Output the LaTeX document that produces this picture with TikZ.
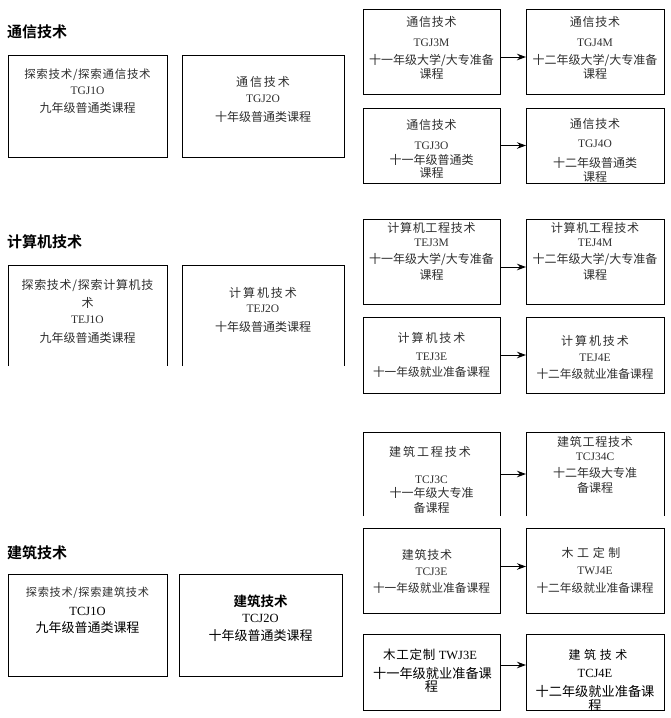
\documentclass[tikz,border=0pt]{standalone}
\usepackage{fontspec}
\setmainfont{Noto Sans CJK SC}[BoldFont={Noto Sans CJK SC Bold}]
\newfontfamily\lat{Liberation Serif}
\newfontfamily\cjkA{Noto Sans CJK SC}[LetterSpace=6]
\newfontfamily\cjkB{Noto Sans CJK SC}[LetterSpace=16]
\newfontfamily\cjkC{Noto Sans CJK SC}[LetterSpace=30]
\usetikzlibrary{arrows.meta}
\newcommand\tl[5][]{\node[txt,#1] (#2) at (#3,#4) {#5};}
\begin{document}
\begin{tikzpicture}[x=1pt,y=-1pt,
  box/.style={draw=black, line width=1pt, inner sep=0pt, outer sep=0pt, anchor=north west},
  openbox/.style={draw=none, inner sep=0pt, outer sep=0pt, anchor=north west},
  side/.style={draw=black, line width=1pt},
  txt/.style={inner sep=0pt, text=black!82, font=\fontsize{12}{14}\selectfont},
  code/.style={txt, font=\lat\fontsize{11.5}{13}\selectfont},
  title/.style={inner sep=0pt, anchor=west, text=black, font=\bfseries\fontsize{15}{17}\selectfont},
  arr/.style={draw=black, line width=1pt, -{Stealth[length=9pt,width=6.5pt]}}
]
\useasboundingbox (0,0) rectangle (671,718);

% ---------- Section 1 ----------
\node[title] (t1) at (7,32) {通信技术};
\node[box, minimum width=159pt, minimum height=102pt] (a1) at (8,55) {};
\node[box, minimum width=162pt, minimum height=102pt] (a2) at (182,55) {};
\node[box, minimum width=137pt, minimum height=85pt] (r1) at (363,9) {};
\node[box, minimum width=138pt, minimum height=85pt] (r2) at (526,9) {};
\node[box, minimum width=137pt, minimum height=75pt] (r3) at (363,108) {};
\node[box, minimum width=138pt, minimum height=75pt] (r4) at (526,108) {};

\tl[font=\cjkA\fontsize{11.5}{14}\selectfont]{a1l1}{87.5}{75}{探索技术/探索通信技术}
\tl[code]{a1l2}{87.5}{91}{TGJ1O}
\tl{a1l3}{87.5}{108}{九年级普通类课程}
\tl[font=\cjkB\fontsize{12}{14}\selectfont]{a2l1}{263}{82}{通信技术}
\tl[code]{a2l2}{263}{99}{TGJ2O}
\tl{a2l3}{263}{117}{十年级普通类课程}

\tl[font=\cjkA\fontsize{12}{14}\selectfont]{r1l1}{431.5}{22}{通信技术}
\tl[code]{r1l2}{431.5}{43}{TGJ3M}
\tl{r1l3}{431.5}{60}{十一年级大学/大专准备}
\tl{r1l4}{431.5}{74}{课程}
\tl[font=\cjkA\fontsize{12}{14}\selectfont]{r2l1}{595}{22}{通信技术}
\tl[code]{r2l2}{595}{43}{TGJ4M}
\tl{r2l3}{595}{60}{十二年级大学/大专准备}
\tl{r2l4}{595}{74}{课程}
\tl[font=\cjkA\fontsize{12}{14}\selectfont]{r3l1}{431.5}{125}{通信技术}
\tl[code]{r3l2}{431.5}{146}{TGJ3O}
\tl{r3l3}{431.5}{160}{十一年级普通类}
\tl{r3l4}{431.5}{173}{课程}
\tl[font=\cjkA\fontsize{12}{14}\selectfont]{r4l1}{595}{124}{通信技术}
\tl[code]{r4l2}{595}{144}{TGJ4O}
\tl{r4l3}{595}{163}{十二年级普通类}
\tl{r4l4}{595}{177}{课程}

\draw[arr] ([yshift=-5.5pt]r1.east) -- ([yshift=-5.5pt]r2.west);
\draw[arr] (r3.east) -- (r4.west);

% ---------- Section 2 ----------
\node[title] (t2) at (7,242) {计算机技术};
\node[openbox, minimum width=159pt, minimum height=101pt] (b1) at (8,265) {};
\node[openbox, minimum width=162pt, minimum height=101pt] (b2) at (182,265) {};
\draw[side] (b1.south west) -- (b1.north west) -- (b1.north east) -- (b1.south east);
\draw[side] (b2.south west) -- (b2.north west) -- (b2.north east) -- (b2.south east);
\node[box, minimum width=137pt, minimum height=85pt] (s1) at (363,219) {};
\node[box, minimum width=138pt, minimum height=85pt] (s2) at (526,219) {};
\node[box, minimum width=137pt, minimum height=76pt] (s3) at (363,317) {};
\node[box, minimum width=138pt, minimum height=76pt] (s4) at (526,317) {};

\tl[font=\cjkA\fontsize{12}{14}\selectfont]{b1l1}{87.5}{285}{探索技术/探索计算机技}
\tl{b1l2}{87.5}{303}{术}
\tl[code]{b1l3}{87.5}{320}{TEJ1O}
\tl{b1l4}{87.5}{338}{九年级普通类课程}
\tl[font=\cjkB\fontsize{12}{14}\selectfont]{b2l1}{263}{293}{计算机技术}
\tl[code]{b2l2}{263}{309}{TEJ2O}
\tl{b2l3}{263}{327}{十年级普通类课程}

\tl[font=\cjkA\fontsize{12}{14}\selectfont]{s1l1}{431.5}{228}{计算机工程技术}
\tl[code]{s1l2}{431.5}{243}{TEJ3M}
\tl{s1l3}{431.5}{259}{十一年级大学/大专准备}
\tl{s1l4}{431.5}{275}{课程}
\tl[font=\cjkA\fontsize{12}{14}\selectfont]{s2l1}{595}{228}{计算机工程技术}
\tl[code]{s2l2}{595}{243}{TEJ4M}
\tl{s2l3}{595}{259}{十二年级大学/大专准备}
\tl{s2l4}{595}{275}{课程}
\tl[font=\cjkB\fontsize{12}{14}\selectfont]{s3l1}{431.5}{338}{计算机技术}
\tl[code]{s3l2}{431.5}{357}{TEJ3E}
\tl[font=\fontsize{11.7}{14}\selectfont]{s3l3}{431.5}{372}{十一年级就业准备课程}
\tl[font=\cjkB\fontsize{12}{14}\selectfont]{s4l1}{595}{341}{计算机技术}
\tl[code]{s4l2}{595}{358}{TEJ4E}
\tl[font=\fontsize{11.7}{14}\selectfont]{s4l3}{595}{374}{十二年级就业准备课程}

\draw[arr] ([yshift=-5.5pt]s1.east) -- ([yshift=-5.5pt]s2.west);
\draw[arr] (s3.east) -- (s4.west);

% ---------- Section 3 ----------
\node[openbox, minimum width=137pt, minimum height=84pt] (u1) at (363,432) {};
\node[openbox, minimum width=138pt, minimum height=84pt] (u2) at (526,432) {};
\draw[side] (u1.south west) -- (u1.north west) -- (u1.north east) -- (u1.south east);
\draw[side] (u2.south west) -- (u2.north west) -- (u2.north east) -- (u2.south east);
\node[box, minimum width=137pt, minimum height=85pt] (u3) at (363,528) {};
\node[box, minimum width=138pt, minimum height=85pt] (u4) at (526,528) {};
\node[title] (t3) at (7,553) {建筑技术};
\node[box, minimum width=159pt, minimum height=102pt] (c1) at (8,574) {};
\node[box, minimum width=163pt, minimum height=102pt] (c2) at (179,574) {};
\node[box, minimum width=137pt, minimum height=76pt] (u5) at (363,634) {};
\node[box, minimum width=138pt, minimum height=76pt] (u6) at (526,634) {};

\tl[font=\cjkB\fontsize{12}{14}\selectfont]{u1l1}{430}{452}{建筑工程技术}
\tl[code]{u1l2}{431.5}{480}{TCJ3C}
\tl{u1l3}{431.5}{493}{十一年级大专准}
\tl{u1l4}{431.5}{508}{备课程}
\tl[font=\cjkA\fontsize{12}{14}\selectfont]{u2l1}{595}{442}{建筑工程技术}
\tl[code]{u2l2}{595}{457}{TCJ34C}
\tl{u2l3}{595}{473}{十二年级大专准}
\tl{u2l4}{595}{488}{备课程}
\tl[font=\cjkA\fontsize{12}{14}\selectfont]{u3l1}{427}{555}{建筑技术}
\tl[code]{u3l2}{431.5}{572}{TCJ3E}
\tl[font=\fontsize{11.7}{14}\selectfont]{u3l3}{431.5}{588}{十一年级就业准备课程}
\tl[font=\cjkC\fontsize{12}{14}\selectfont]{u4l1}{591}{553}{木工定制}
\tl[code]{u4l2}{595}{571}{TWJ4E}
\tl[font=\fontsize{11.7}{14}\selectfont]{u4l3}{595}{588}{十二年级就业准备课程}

\tl[font=\cjkA\fontsize{11.2}{14}\selectfont]{c1l1}{87.5}{593}{探索技术/探索建筑技术}
\tl[code, text=black, font=\lat\fontsize{12.5}{14}\selectfont]{c1l2}{87.5}{611}{TCJ1O}
\tl[text=black, font=\fontsize{13}{15}\selectfont]{c1l3}{87.5}{628}{九年级普通类课程}
\tl[text=black, font=\bfseries\fontsize{13.5}{15}\selectfont]{c2l1}{260.5}{601}{建筑技术}
\tl[code, text=black, font=\lat\fontsize{12.5}{14}\selectfont]{c2l2}{260.5}{618}{TCJ2O}
\tl[text=black, font=\fontsize{13}{15}\selectfont]{c2l3}{260.5}{636}{十年级普通类课程}

\tl[text=black, font=\cjkA\fontsize{12.5}{14}\selectfont]{u5l1}{430}{655}{木工定制 {\lat TWJ3E}}
\tl[text=black, font=\fontsize{13.2}{15}\selectfont]{u5l2}{432.5}{673}{十一年级就业准备课}
\tl[text=black, font=\fontsize{13.2}{15}\selectfont]{u5l3}{431.5}{687}{程}
\tl[text=black, font=\cjkC\fontsize{12}{14}\selectfont]{u6l1}{598}{655}{建筑技术}
\tl[code, text=black, font=\lat\fontsize{12.5}{14}\selectfont]{u6l2}{595}{673}{TCJ4E}
\tl[text=black, font=\fontsize{13.2}{15}\selectfont]{u6l3}{595}{691}{十二年级就业准备课}
\tl[text=black, font=\fontsize{13.2}{15}\selectfont]{u6l4}{595}{706}{程}

\draw[arr] (u1.east) -- (u2.west);
\draw[arr] ([yshift=4pt]u3.east) -- ([yshift=4pt]u4.west);
\draw[arr] ([yshift=7pt]u5.east) -- ([yshift=7pt]u6.west);
\end{tikzpicture}
\end{document}
